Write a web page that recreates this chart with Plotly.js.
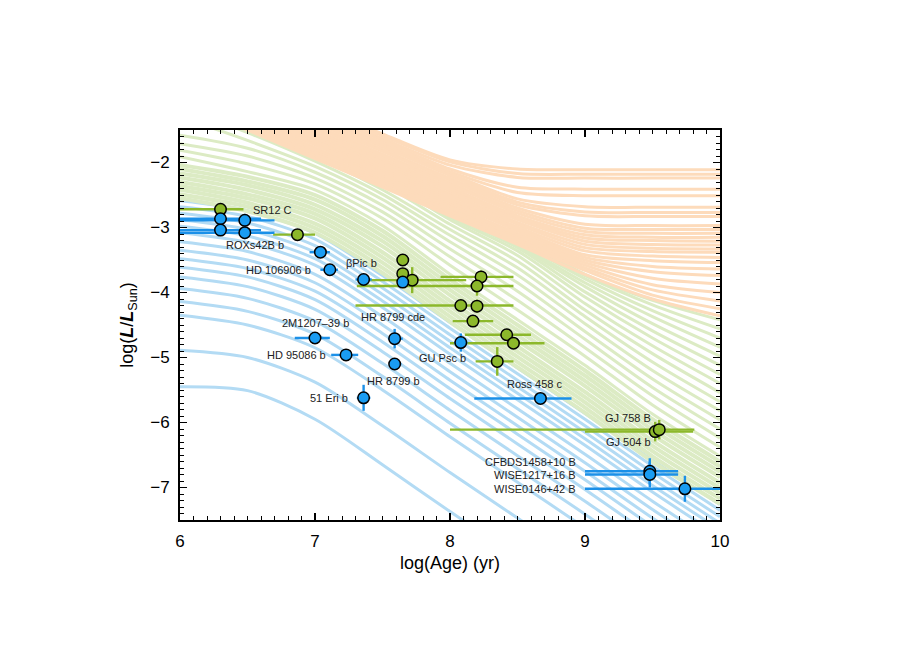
<!DOCTYPE html>
<html><head><meta charset="utf-8">
<script src="https://cdn.plot.ly/plotly-3.0.1.min.js"></script>
<style>html,body{margin:0;padding:0;background:#fff;} #chart{width:900px;height:650px;}</style>
</head><body><div id="chart"></div>
<script>
// log(Age) grid shared by all evolutionary tracks
const ages = [6, 6.5, 7, 7.5, 8, 8.5, 9, 9.5, 10];

// planet-mass tracks (blue), log L at each grid age
const planetTracks = [
  [-2.59,-2.74,-3.09,-3.74,-4.46,-5.16,-5.86,-6.58,-7.26],
  [-2.68,-2.83,-3.18,-3.83,-4.55,-5.25,-5.95,-6.67,-7.35],
  [-2.78,-2.93,-3.28,-3.93,-4.65,-5.35,-6.05,-6.77,-7.45],
  [-2.88,-3.03,-3.38,-4.03,-4.75,-5.45,-6.15,-6.87,-7.55],
  [-2.98,-3.13,-3.48,-4.13,-4.85,-5.55,-6.25,-6.97,-7.65],
  [-3.08,-3.23,-3.58,-4.23,-4.95,-5.65,-6.35,-7.07,-7.75],
  [-3.22,-3.37,-3.72,-4.37,-5.09,-5.79,-6.49,-7.21,-7.89],
  [-3.35,-3.50,-3.85,-4.50,-5.22,-5.92,-6.62,-7.34,-8.02],
  [-3.48,-3.63,-3.98,-4.63,-5.35,-6.05,-6.75,-7.47,-8.15],
  [-3.61,-3.76,-4.11,-4.76,-5.48,-6.18,-6.88,-7.60,-8.28],
  [-3.76,-3.91,-4.26,-4.91,-5.63,-6.33,-7.03,-7.75,-8.43],
  [-3.94,-4.09,-4.44,-5.09,-5.81,-6.51,-7.21,-7.93,-8.61],
  [-4.14,-4.29,-4.64,-5.29,-6.01,-6.71,-7.41,-8.13,-8.81],
  [-4.35,-4.50,-4.85,-5.50,-6.22,-6.92,-7.62,-8.34,-9.02],
  [-4.89,-5.00,-5.38,-6.05,-6.77,-7.47,-8.17,-8.87,-9.57],
  [-5.45,-5.51,-5.95,-6.65,-7.37,-8.07,-8.77,-9.47,-10.17]
];

// brown-dwarf tracks (green), higher masses
const browndwarfTracks = [
  [-0.60,-1.05,-1.50,-1.95,-2.60,-3.15,-3.72,-4.12,-4.42],
  [-0.62,-1.07,-1.52,-1.98,-2.64,-3.18,-3.74,-4.19,-4.56],
  [-0.64,-1.09,-1.55,-2.02,-2.68,-3.21,-3.79,-4.28,-4.70],
  [-0.66,-1.12,-1.58,-2.06,-2.72,-3.25,-3.85,-4.37,-4.84],
  [-0.70,-1.16,-1.62,-2.10,-2.76,-3.28,-3.91,-4.48,-4.98],
  [-0.75,-1.20,-1.66,-2.15,-2.80,-3.31,-3.99,-4.59,-5.12],
  [-0.80,-1.25,-1.72,-2.20,-2.84,-3.36,-4.07,-4.70,-5.26],
  [-0.86,-1.30,-1.78,-2.26,-2.88,-3.43,-4.17,-4.82,-5.40],
  [-0.93,-1.36,-1.84,-2.33,-2.95,-3.52,-4.27,-4.94,-5.54],
  [-1.00,-1.42,-1.90,-2.42,-3.03,-3.62,-4.37,-5.07,-5.68],
  [-1.15,-1.54,-1.98,-2.49,-3.12,-3.73,-4.48,-5.20,-5.82],
  [-1.30,-1.66,-2.06,-2.57,-3.22,-3.85,-4.60,-5.33,-5.96],
  [-1.58,-1.78,-2.15,-2.66,-3.33,-3.98,-4.72,-5.46,-6.10],
  [-1.71,-1.90,-2.24,-2.76,-3.45,-4.12,-4.85,-5.59,-6.24],
  [-1.81,-2.02,-2.33,-2.86,-3.58,-4.27,-4.98,-5.73,-6.38],
  [-1.91,-2.14,-2.42,-2.97,-3.72,-4.42,-5.12,-5.87,-6.52]
];

// low-mass brown-dwarf tracks (green) crowded in the deuterium-burning band
const deuteriumBandTracks = [
  [-2.04,-2.22,-2.50,-3.05,-3.80,-4.50,-5.20,-5.95,-6.60],
  [-2.10,-2.29,-2.57,-3.13,-3.88,-4.58,-5.28,-6.03,-6.68],
  [-2.17,-2.35,-2.65,-3.21,-3.96,-4.66,-5.36,-6.11,-6.76],
  [-2.23,-2.42,-2.72,-3.29,-4.04,-4.74,-5.44,-6.19,-6.84],
  [-2.30,-2.49,-2.79,-3.38,-4.13,-4.83,-5.53,-6.28,-6.93],
  [-2.36,-2.55,-2.86,-3.46,-4.21,-4.91,-5.61,-6.36,-7.01],
  [-2.42,-2.62,-2.94,-3.54,-4.29,-4.99,-5.69,-6.44,-7.09],
  [-2.49,-2.68,-3.01,-3.62,-4.37,-5.07,-5.77,-6.52,-7.17],
  [-2.55,-2.75,-3.08,-3.70,-4.45,-5.15,-5.85,-6.60,-7.25]
];

// stellar tracks (orange)
const stellarTracks = [
  [-0.24,-0.68,-1.12,-1.56,-1.96,-2.10,-2.11,-2.11,-2.11],
  [-0.27,-0.71,-1.15,-1.59,-1.99,-2.17,-2.18,-2.18,-2.18],
  [-0.31,-0.75,-1.19,-1.63,-2.04,-2.23,-2.24,-2.24,-2.24],
  [-0.34,-0.78,-1.22,-1.66,-2.10,-2.38,-2.41,-2.41,-2.41],
  [-0.38,-0.82,-1.26,-1.70,-2.14,-2.46,-2.51,-2.51,-2.51],
  [-0.41,-0.85,-1.29,-1.73,-2.17,-2.56,-2.68,-2.69,-2.69],
  [-0.44,-0.88,-1.32,-1.76,-2.20,-2.61,-2.76,-2.77,-2.77],
  [-0.48,-0.92,-1.36,-1.80,-2.24,-2.65,-2.82,-2.83,-2.83],
  [-0.51,-0.95,-1.39,-1.83,-2.27,-2.70,-2.95,-2.97,-2.97],
  [-0.55,-0.99,-1.43,-1.87,-2.31,-2.74,-3.01,-3.03,-3.03],
  [-0.58,-1.02,-1.46,-1.90,-2.34,-2.78,-3.06,-3.09,-3.09],
  [-0.62,-1.06,-1.50,-1.94,-2.38,-2.82,-3.11,-3.15,-3.15],
  [-0.65,-1.09,-1.53,-1.97,-2.41,-2.85,-3.16,-3.20,-3.21],
  [-0.68,-1.12,-1.56,-2.00,-2.44,-2.88,-3.21,-3.26,-3.27],
  [-0.72,-1.16,-1.60,-2.04,-2.48,-2.92,-3.26,-3.32,-3.33],
  [-0.75,-1.19,-1.63,-2.07,-2.51,-2.95,-3.31,-3.37,-3.38],
  [-0.79,-1.23,-1.67,-2.11,-2.55,-2.99,-3.36,-3.44,-3.46],
  [-0.82,-1.26,-1.70,-2.14,-2.58,-3.02,-3.42,-3.51,-3.54],
  [-0.85,-1.29,-1.73,-2.17,-2.61,-3.05,-3.46,-3.60,-3.64],
  [-0.89,-1.33,-1.77,-2.21,-2.65,-3.09,-3.50,-3.68,-3.74],
  [-0.92,-1.36,-1.80,-2.24,-2.68,-3.12,-3.54,-3.78,-3.87],
  [-0.96,-1.40,-1.84,-2.28,-2.72,-3.16,-3.58,-3.88,-4.00],
  [-0.99,-1.43,-1.87,-2.31,-2.75,-3.19,-3.62,-3.96,-4.13],
  [-1.03,-1.47,-1.91,-2.35,-2.79,-3.23,-3.66,-4.04,-4.25],
  [-1.06,-1.50,-1.94,-2.38,-2.82,-3.26,-3.72,-4.10,-4.36]
];

// brown-dwarf companions (green points)
const bdAge      = [6.30, 6.87, 7.65, 7.65, 7.72, 8.23, 8.20, 8.08, 8.20, 8.17, 8.42, 8.47, 8.35, 9.52, 9.55];
const bdLum      = [-2.72,-3.11,-3.50,-3.71,-3.81,-3.76,-3.90,-4.20,-4.21,-4.44,-4.65,-4.78,-5.06,-6.14,-6.11];
const bdAgeMinus = [0.35, 0.18, 0.00, 0.00, 0.41, 0.30, 0.89, 0.78, 0.00, 0.15, 0.31, 0.47, 0.16, 0.52, 1.55];
const bdAgePlus  = [0.17, 0.13, 0.00, 0.00, 0.40, 0.24, 0.27, 0.39, 0.00, 0.15, 0.18, 0.23, 0.12, 0.28, 0.26];
const bdLumErr   = [0.08, 0.05, 0.08, 0.00, 0.20, 0.10, 0.15, 0.05, 0.10, 0.05, 0.05, 0.05, 0.22, 0.15, 0.15];

// planetary-mass companions (blue points)
const plAge      = [6.30, 6.48, 6.30, 6.48, 7.04, 7.11, 7.36, 7.65, 7.00, 7.23, 7.59, 7.59, 7.36, 8.08, 8.67, 9.48, 9.48, 9.74];
const plLum      = [-2.865,-2.89,-3.04,-3.08,-3.38,-3.65,-3.80,-3.84,-4.70,-4.96,-4.71,-5.10,-5.62,-4.77,-5.63,-6.75,-6.80,-7.02];
const plAgeMinus = [0.40, 0.60, 0.40, 0.60, 0.08, 0.07, 0.06, 0.03, 0.15, 0.11, 0.05, 0.04, 0.05, 0.05, 0.49, 0.48, 0.48, 0.74];
const plAgePlus  = [0.30, 0.22, 0.30, 0.22, 0.07, 0.06, 0.06, 0.03, 0.11, 0.09, 0.06, 0.05, 0.05, 0.05, 0.23, 0.21, 0.21, 0.40];
const plLumErr   = [0.03, 0.10, 0.03, 0.10, 0.05, 0.04, 0.05, 0.05, 0.04, 0.03, 0.15, 0.05, 0.20, 0.14, 0.04, 0.20, 0.20, 0.20];

// object labels
const labelText = ['SR12 C','ROXs42B b','HD 106906 b','βPic b','HR 8799 cde','2M1207–39 b','HD 95086 b','GU Psc b','HR 8799 b','51 Eri b','Ross 458 c','GJ 758 B','GJ 504 b','CFBDS1458+10 B','WISE1217+16 B','WISE0146+42 B'];
const labelAge  = [6.526, 6.552, 6.985, 7.348, 7.578, 7.00, 7.099, 7.753, 7.578, 7.259, 8.63, 9.315, 9.319, 8.948, 8.948, 8.948];
const labelLum  = [-2.73, -3.27, -3.654, -3.546, -4.377, -4.465, -4.966, -5.003, -5.362, -5.618, -5.412, -5.926, -6.30, -6.603, -6.808, -7.028];
const labelAnchor = ['left','center','right','center','center','center','right','left','center','right','center','center','center','right','right','right'];

const FONT = 'Liberation Sans, Arial, Helvetica, sans-serif';
const traces = [];
function addTracks(list, color, width) {
  list.forEach(t => traces.push({
    x: ages, y: t, type: 'scatter', mode: 'lines',
    line: {color: color, width: width, shape: 'spline', smoothing: 0.8},
    hoverinfo: 'skip', showlegend: false
  }));
}
addTracks(planetTracks, '#b3dbf4', 3);
addTracks(browndwarfTracks, '#dcebc4', 3);
addTracks(deuteriumBandTracks, '#dcebc4', 4);
addTracks(stellarTracks, '#fddbbb', 3);

traces.push({
  x: bdAge, y: bdLum, type: 'scatter', mode: 'markers',
  error_x: {type: 'data', symmetric: false, array: bdAgePlus, arrayminus: bdAgeMinus, color: '#8cb82b', thickness: 2.4, width: 0},
  error_y: {type: 'data', array: bdLumErr, color: '#8cb82b', thickness: 2.4, width: 0},
  marker: {size: 11.5, color: '#8cb82b', line: {color: '#000', width: 1.5}},
  hoverinfo: 'skip', showlegend: false
});
traces.push({
  x: plAge, y: plLum, type: 'scatter', mode: 'markers',
  error_x: {type: 'data', symmetric: false, array: plAgePlus, arrayminus: plAgeMinus, color: '#1b90e8', thickness: 2.4, width: 0},
  error_y: {type: 'data', array: plLumErr, color: '#1b90e8', thickness: 2.4, width: 0},
  marker: {size: 11.5, color: '#1a9cf2', line: {color: '#000', width: 1.5}},
  hoverinfo: 'skip', showlegend: false
});

const annotations = labelText.map((t, i) => ({
  x: labelAge[i], y: labelLum[i], xref: 'x', yref: 'y', text: t, showarrow: false,
  xanchor: labelAnchor[i], yanchor: 'middle', font: {family: FONT, size: 11, color: '#222'}
}));

const axisCommon = {
  showline: true, linecolor: '#000', linewidth: 2, mirror: 'allticks',
  ticks: 'inside', ticklen: 7, tickwidth: 1.5, tickcolor: '#000',
  showgrid: false, zeroline: false,
  tickfont: {family: FONT, size: 17, color: '#000'},
  minor: {ticks: 'inside', ticklen: 4, tickwidth: 1, tickcolor: '#000', dtick: 0.1, showgrid: false}
};

const layout = {
  width: 900, height: 650,
  margin: {l: 180, r: 180, t: 130, b: 130},
  paper_bgcolor: '#fff', plot_bgcolor: '#fff',
  showlegend: false,
  xaxis: Object.assign({}, axisCommon, {
    range: [6, 10], tick0: 6, dtick: 1, ticklabelstandoff: 5,
    title: {text: 'log(Age) (yr)', font: {family: FONT, size: 18, color: '#000'}, standoff: 6}
  }),
  yaxis: Object.assign({}, axisCommon, {
    range: [-7.5, -1.5], tick0: -7, dtick: 1, ticklabelstandoff: 5,
    title: {text: 'log(<b><i>L</i></b>/<b><i>L</i></b><sub>Sun</sub>)', font: {family: FONT, size: 18, color: '#000'}, standoff: 12}
  }),
  annotations: annotations
};

Plotly.newPlot('chart', traces, layout, {staticPlot: true, displayModeBar: false});
</script></body></html>
